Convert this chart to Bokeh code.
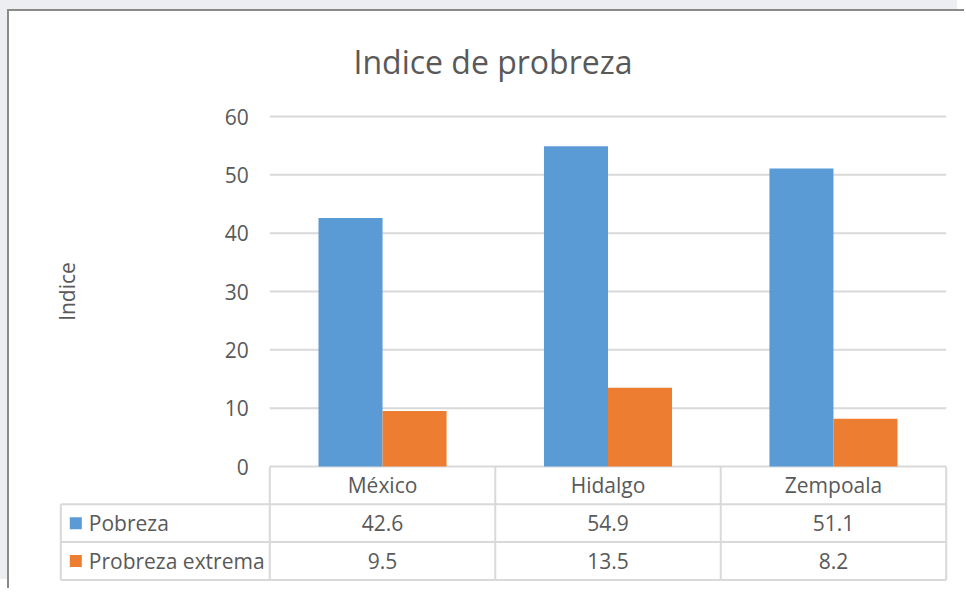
import math
from bokeh.plotting import figure
from bokeh.layouts import column
from bokeh.models import Range1d, FixedTicker
from bokeh.core.properties import value
from bokeh.embed import file_html
from bokeh.resources import INLINE

# ---------------- data ----------------
categories = ["México", "Hidalgo", "Zempoala"]
pobreza = [42.6, 54.9, 51.1]
pobreza_extrema = [9.5, 13.5, 8.2]
series_names = ["Pobreza", "Probreza extrema"]
y_ticks = [0, 10, 20, 30, 40, 50, 60]
title_text = "Indice de probreza"
y_label = "Indice"

# ---------------- style ----------------
BLUE = "#5b9bd5"
ORANGE = "#ed7d31"
TEXT = "#595959"
GRID = "#d9d9d9"
FONT = "Open Sans"
FS = "21px"

OX, OY = 9, 11                                # card offset in the window
W, H = 966 - OX, 590 - OY
FL, FR, FT, FB = 56 - OX, 950 - OX, 104 - OY, 581 - OY   # frame edges (px, card coords)
ZX = 269.3 - OX                               # x position of category axis start
PXX = (945.7 - 269.3) / 3                     # px per category
PXY = 350 / 60                                # px per y unit
X0 = -(ZX - FL) / PXX
X1 = 3 + (FR - (945.7 - OX)) / PXX
Y1 = 60 + ((116 - OY) - FT) / PXY
Y0 = -(FB - (466 - OY)) / PXY

p = figure(width=W, height=H, output_backend="svg", toolbar_location=None,
           x_range=Range1d(X0, X1), y_range=Range1d(Y0, Y1),
           min_border_left=FL, min_border_right=W - FR,
           min_border_top=FT, min_border_bottom=H - FB)
p.outline_line_color = None
p.background_fill_color = "white"
p.background_fill_alpha = 0
p.border_fill_color = "white"
p.xgrid.visible = False
p.ygrid.visible = False
p.xaxis.visible = False
p.margin = (OY, 0, 0, OX)
p.styles = {"box-shadow": "-2px -2px 0px 0px #8a8a8a, -9px -11px 0px 0px #eceef2"}

# title
p.title.text = title_text
p.title.align = "left"
p.title.offset = 297
p.title.text_font = FONT
p.title.text_font_size = "32px"
p.title.text_font_style = "normal"
p.title.text_color = TEXT
p.title.standoff = 44

# y axis
ya = p.yaxis[0]
ya.ticker = FixedTicker(ticks=y_ticks)
ya.fixed_location = 0
ya.axis_line_color = None
ya.major_tick_line_color = None
ya.minor_tick_line_color = None
ya.major_tick_out = 0
ya.major_label_standoff = 21
ya.major_label_text_font = FONT
ya.major_label_text_font_size = FS
ya.major_label_text_color = TEXT

n = len(categories)
ymax = max(y_ticks)

# gridlines
p.segment(x0=[0] * len(y_ticks), x1=[n] * len(y_ticks), y0=y_ticks, y1=y_ticks,
          line_color=GRID, line_width=2)

# bars
BW = 0.284
centers = [i + 0.5 for i in range(n)]
p.vbar(x=[c - BW / 2 for c in centers], width=BW, top=pobreza, bottom=0,
       fill_color=BLUE, line_color=None)
p.vbar(x=[c + BW / 2 for c in centers], width=BW, top=pobreza_extrema, bottom=0,
       fill_color=ORANGE, line_color=None)

# y-axis title
p.text(x=[-203 / PXX], y=[ymax / 2], text=[y_label], angle=math.pi / 2,
       text_align="center", text_baseline="middle", text_font=value(FONT),
       text_font_size=FS, text_color=TEXT)

# ---------------- data table ----------------
ROW_H = 37.8 / PXY
rows = [0, -ROW_H, -2 * ROW_H, -3 * ROW_H]
XL = -209 / PXX  # left edge of table legend column

p.segment(x0=[XL, XL, XL], x1=[n, n, n], y0=rows[1:], y1=rows[1:],
          line_color=GRID, line_width=2)
p.segment(x0=list(range(n + 1)), x1=list(range(n + 1)),
          y0=[0] * (n + 1), y1=[rows[3]] * (n + 1), line_color=GRID, line_width=2)
p.segment(x0=[XL], x1=[XL], y0=[rows[1]], y1=[rows[3]], line_color=GRID, line_width=2)

hdr_y = (rows[0] + rows[1]) / 2
r1_y = (rows[1] + rows[2]) / 2
r2_y = (rows[2] + rows[3]) / 2

txt = dict(text_baseline="middle", text_font=value(FONT), text_font_size=FS, text_color=TEXT)
p.text(x=centers, y=[hdr_y] * n, text=categories, text_align="center", **txt)
p.text(x=centers, y=[r1_y] * n, text=[f"{v:.1f}" for v in pobreza], text_align="center", **txt)
p.text(x=centers, y=[r2_y] * n, text=[f"{v:.1f}" for v in pobreza_extrema], text_align="center", **txt)

p.scatter(x=[XL + 15 / PXX] * 2, y=[r1_y, r2_y], marker="square", size=12,
          fill_color=[BLUE, ORANGE], line_color=None)
p.text(x=[XL + 28 / PXX] * 2, y=[r1_y, r2_y], text=series_names, text_align="left", **txt)

page = column(p, styles={"background-color": "white"})
open("out.html", "w").write(file_html(page, INLINE))
